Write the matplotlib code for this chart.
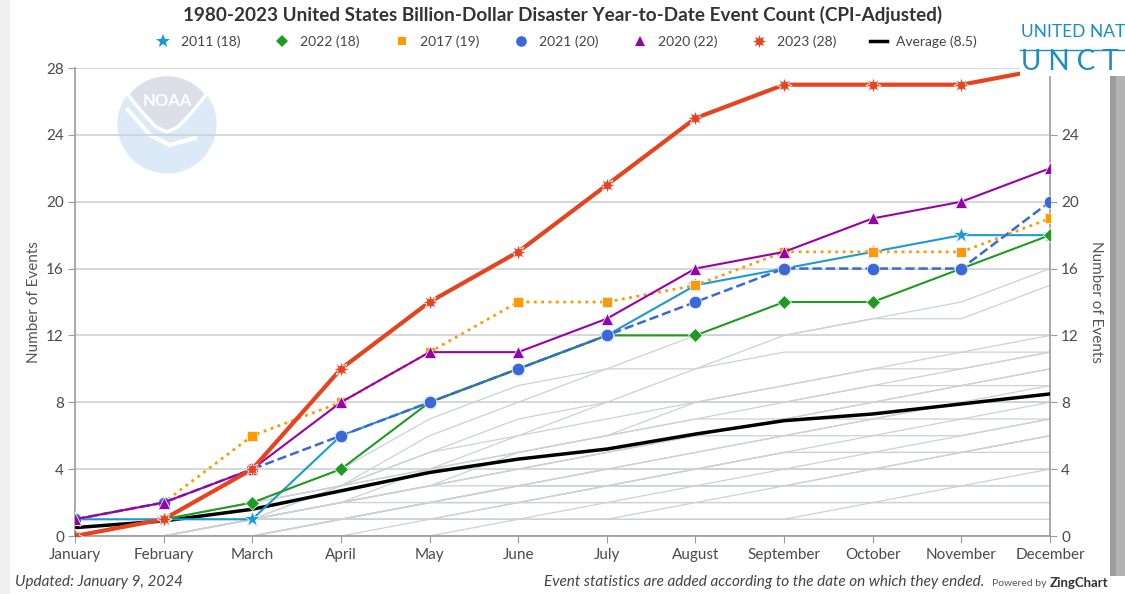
import numpy as np
import matplotlib
matplotlib.use('Agg')
import matplotlib.pyplot as plt
from matplotlib.lines import Line2D
from matplotlib.patches import Circle, Polygon, Rectangle

plt.rcParams['font.family'] = ['Lato', 'DejaVu Sans']

months = ['January', 'February', 'March', 'April', 'May', 'June', 'July',
          'August', 'September', 'October', 'November', 'December']

y2011 = [1, 1, 1, 6, 8, 10, 12, 15, 16, 17, 18, 18]
y2022 = [0, 1, 2, 4, 8, 10, 12, 12, 14, 14, 16, 18]
y2017 = [1, 2, 6, 8, 11, 14, 14, 15, 17, 17, 17, 19]
y2021 = [1, 2, 4, 6, 8, 10, 12, 14, 16, 16, 16, 20]
y2020 = [1, 2, 4, 8, 11, 11, 13, 16, 17, 19, 20, 22]
y2023 = [0, 1, 4, 10, 14, 17, 21, 25, 27, 27, 27, 28]
average = [0.5, 0.9, 1.6, 2.7, 3.8, 4.6, 5.2, 6.1, 6.9, 7.3, 7.9, 8.5]

# other years 1980-2022, drawn as light background lines
other_years = [
    [0, 0, 1, 1, 1, 1, 1, 1, 1, 1, 1, 1],
    [0, 0, 0, 1, 1, 1, 2, 2, 2, 2, 2, 2],
    [0, 1, 1, 1, 2, 2, 3, 3, 3, 3, 3, 3],
    [0, 0, 1, 1, 2, 2, 2, 2, 3, 3, 3, 4],
    [0, 0, 0, 1, 2, 3, 3, 3, 4, 4, 5, 5],
    [0, 0, 1, 2, 2, 3, 3, 4, 5, 5, 5, 6],
    [0, 0, 0, 1, 1, 2, 3, 3, 3, 4, 5, 6],
    [0, 1, 1, 2, 3, 3, 4, 5, 6, 6, 6, 7],
    [0, 0, 1, 1, 2, 3, 4, 5, 6, 7, 7, 8],
    [0, 1, 1, 2, 3, 4, 5, 6, 7, 7, 8, 9],
    [0, 0, 1, 3, 4, 5, 6, 7, 7, 8, 9, 9],
    [0, 0, 1, 2, 4, 5, 6, 8, 8, 9, 9, 10],
    [0, 1, 2, 3, 4, 6, 7, 8, 9, 10, 10, 11],
    [0, 0, 1, 3, 5, 6, 8, 8, 9, 10, 11, 11],
    [0, 1, 2, 3, 5, 7, 8, 10, 11, 11, 11, 12],
    [0, 1, 2, 4, 7, 9, 10, 10, 12, 13, 13, 15],
    [1, 1, 2, 3, 6, 8, 10, 12, 12, 13, 14, 16],
    [0, 0, 0, 0, 0, 1, 1, 1, 1, 2, 2, 2],
    [0, 0, 0, 0, 1, 1, 1, 2, 2, 2, 3, 3],
    [0, 0, 0, 1, 1, 2, 2, 3, 3, 4, 4, 4],
    [0, 0, 1, 1, 2, 2, 3, 4, 4, 5, 5, 6],
    [0, 0, 0, 1, 2, 3, 3, 4, 5, 5, 6, 7],
    [0, 1, 1, 1, 2, 3, 4, 4, 5, 6, 7, 7],
    [0, 0, 1, 2, 3, 4, 5, 6, 6, 7, 8, 8],
    [0, 0, 1, 2, 3, 5, 6, 7, 8, 9, 10, 11],
    [0, 0, 1, 2, 3, 4, 5, 6, 7, 8, 9, 10],
]

series = [
    ('2011 (18)', y2011, '#1b9bd1', '*', 12, '-', 1.5),
    ('2022 (18)', y2022, '#1f9b1f', 'D', 7, '-', 1.5),
    ('2017 (19)', y2017, '#ff9a00', 's', 7.5, ':', 2.0),
    ('2021 (20)', y2021, '#3a68d6', 'o', 9, '--', 1.8),
    ('2020 (22)', y2020, '#9a00a8', '^', 8.5, '-', 1.5),
    ('2023 (28)', y2023, '#e6431e', (8, 1, 0), 11, '-', 3.0),
]

fig = plt.figure(figsize=(11.25, 5.94), dpi=100)
fig.patch.set_facecolor('white')

# background layer (watermark)
bg = fig.add_axes([0, 0, 1, 1])
bg.set_xlim(0, 1125)
bg.set_ylim(594, 0)
bg.axis('off')
bg.set_zorder(0)
bg.add_patch(Rectangle((0, 0), 10, 594, color='#f0f0f0', lw=0))
bg.add_patch(Circle((167, 124), 49.5, color='#dbeaf6', lw=0))
t = np.linspace(np.radians(143), np.radians(37), 40)
top_arc = np.column_stack([167 + 49.5 * np.cos(t), 124 - 49.5 * np.sin(t)])
v_right = np.array([[192, 112], [178, 127], [167, 132]])
v_left = np.array([[156, 127], [142, 112]])
bg.add_patch(Polygon(np.vstack([top_arc, v_right, v_left]), closed=True,
                     facecolor='#dddfe8', edgecolor='white', lw=2.5))
bg.plot([128, 150, 170, 195], [110, 135, 145, 138], color='white', lw=3)
bg.text(167, 101, 'NOAA', color='white', fontsize=12, fontweight='bold',
        ha='center', va='center')

ax = fig.add_axes([75 / 1125, 58 / 594, 975 / 1125, 468 / 594])
ax.set_zorder(1)
ax.patch.set_alpha(0)
x = np.arange(len(months))

for yrs in other_years:
    ax.plot(x, yrs, color='#cdd0d5', lw=0.9, zorder=2)

ax.plot(x, average, color='black', lw=2.5, zorder=3)

handles = []
for i, (lab, vals, col, mk, ms, ls, lw) in enumerate(series):
    ax.plot(x, vals, color=col, lw=lw, linestyle=ls, marker=mk, markersize=ms,
            markeredgecolor='#e8f2fa', markeredgewidth=0.6, zorder=4 + i)
    handles.append(Line2D([], [], color=col, marker=mk, linestyle='None',
                          markersize=ms * 0.85, markeredgewidth=0, label=lab))
handles.append(Line2D([], [], color='black', lw=2.5, label='Average (8.5)'))

ax.set_xlim(0, 11)
ax.set_ylim(0, 28)
ax.set_yticks(range(0, 29, 4))
ax.set_xticks(x)
ax.set_xticklabels(months)
ax.grid(axis='y', color='#cfd1d4', lw=1.2, zorder=1)
ax.set_axisbelow(True)
ax.spines['top'].set_visible(False)
for s in ['left', 'right', 'bottom']:
    ax.spines[s].set_color('#9a9a9a')
    ax.spines[s].set_linewidth(1.2)
ax.tick_params(axis='both', colors='#9a9a9a', labelcolor='#4a4a4a',
               labelsize=11, length=5)
ax.tick_params(axis='y', right=True, labelright=True, pad=3)
# the right-hand "28" sits under the logo overlay in the original
fig.canvas.draw()
for tk in ax.yaxis.get_major_ticks():
    if tk.get_loc() == 28:
        tk.label2.set_visible(False)
ax.set_ylabel('Number of Events', color='#555555', fontsize=11, labelpad=4)
ax2 = ax.secondary_yaxis('right')
ax2.set_yticks([])
ax2.spines['right'].set_visible(False)
ax2.set_ylabel('Number of Events', color='#555555', fontsize=11,
               rotation=270, labelpad=38)

fig.text(0.5, 1 - 15 / 594, '1980-2023 United States Billion-Dollar Disaster '
         'Year-to-Date Event Count (CPI-Adjusted)', ha='center', va='center',
         fontsize=13.6, fontweight='bold', color='#333333')

fig.legend(handles=handles, loc='center', bbox_to_anchor=(0.503, 1 - 42 / 594),
           ncol=7, frameon=False, fontsize=10, handlelength=1.2,
           handletextpad=0.7, columnspacing=2.4, labelcolor='#444444')

fig.text(15 / 1125, 1 - 582 / 594, 'Updated: January 9, 2024', fontsize=11,
         style='italic', color='#444444', va='center')
fig.text(984 / 1125, 1 - 582 / 594, 'Event statistics are added according to '
         'the date on which they ended.', fontsize=11, style='italic',
         color='#444444', va='center', ha='right')
fig.text(1047 / 1125, 1 - 583 / 594, 'Powered by', fontsize=7.5,
         color='#555555', va='center', ha='right')
fig.text(1050 / 1125, 1 - 583 / 594, 'ZingChart', fontsize=9.5,
         fontweight='bold', color='#333333', va='center', ha='left')

# top-right overlay
top = fig.add_axes([0, 0, 1, 1])
top.set_xlim(0, 1125)
top.set_ylim(594, 0)
top.axis('off')
top.set_zorder(3)
top.add_patch(Rectangle((1020, 0), 105, 76, color='white', lw=0))
top.text(1021, 32, 'UNITED NAT', color='#1a8cc8', fontsize=12.5,
         va='center', ha='left')
top.plot([1020, 1125], [50, 50], color='#1a8cc8', lw=1)
top.text(1021, 62, 'U N C T', color='#1a8cc8', fontsize=20,
         va='center', ha='left')
top.add_patch(Rectangle((1110, 76), 15, 500, color='#b3b3b3', lw=0))
top.add_patch(Rectangle((1110, 76), 6, 500, color='#9c9c9c', lw=0))

fig.savefig('out.png', dpi=100)
